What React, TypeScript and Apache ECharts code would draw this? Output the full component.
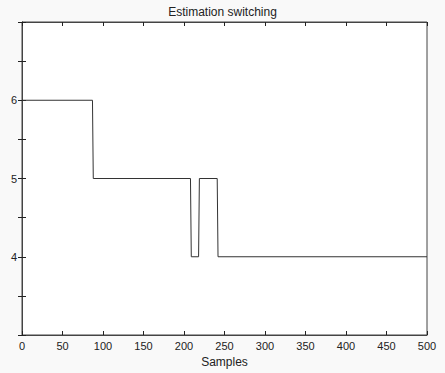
import React, { useEffect, useRef } from "react";
import * as echarts from "echarts";

const samples = [0, 87, 88, 208, 209, 218, 219, 241, 242, 500];
const estimates = [6, 6, 5, 5, 4, 4, 5, 5, 4, 4];
const xTicks = [0, 50, 100, 150, 200, 250, 300, 350, 400, 450, 500];
const yLabelled = [4, 5, 6];

export default function App() {
  const ref = useRef<HTMLDivElement>(null);
  useEffect(() => {
    document.body.style.margin = "0";
    const chart = echarts.init(ref.current!, null, { renderer: "svg" });
    const font = "'Liberation Sans', Arial, sans-serif";
    const axisLine = { show: true, lineStyle: { color: "#444", width: 1 } };
    const tick = { show: true, inside: true, length: 4, lineStyle: { color: "#222" } };
    chart.setOption({
      animation: false,
      backgroundColor: "#f9f9f9",
      title: {
        text: "Estimation switching",
        left: "center",
        top: 1,
        textStyle: { fontFamily: font, fontSize: 12, fontWeight: "normal", color: "#222" },
      },
      grid: {
        left: 22,
        right: 18,
        top: 22,
        bottom: 37,
        show: true,
        backgroundColor: "#ffffff",
        borderColor: "#444",
        borderWidth: 1,
      },
      xAxis: [
        {
          type: "value",
          min: 0,
          max: 500,
          interval: 50,
          name: "Samples",
          nameLocation: "middle",
          nameGap: 21,
          nameTextStyle: { fontFamily: font, fontSize: 12, color: "#222" },
          axisLine,
          axisTick: tick,
          splitLine: { show: false },
          axisLabel: {
            fontFamily: font,
            fontSize: 11,
            color: "#222",
            margin: 5,
            formatter: (v: number) => (xTicks.includes(v) ? String(v) : ""),
          },
        },
        {
          type: "value",
          position: "top",
          min: 0,
          max: 500,
          interval: 50,
          axisLine,
          axisTick: tick,
          splitLine: { show: false },
          axisLabel: { show: false },
        },
      ],
      yAxis: [
        {
          type: "value",
          min: 3,
          max: 7,
          interval: 0.5,
          axisLine,
          axisTick: tick,
          splitLine: { show: false },
          axisLabel: {
            fontFamily: font,
            fontSize: 11,
            color: "#222",
            margin: 5,
            formatter: (v: number) => (yLabelled.includes(v) ? String(v) : ""),
          },
        },
        {
          type: "value",
          position: "right",
          min: 3,
          max: 7,
          interval: 0.5,
          axisLine,
          axisTick: tick,
          splitLine: { show: false },
          axisLabel: { show: false },
        },
      ],
      series: [
        {
          type: "line",
          data: samples.map((s, i) => [s, estimates[i]]),
          showSymbol: false,
          lineStyle: { color: "#333", width: 1 },
          xAxisIndex: 0,
          yAxisIndex: 0,
        },
      ],
    });
    return () => chart.dispose();
  }, []);
  return <div ref={ref} style={{ position: "absolute", left: 0, top: 0, width: 445, height: 373 }} />;
}
